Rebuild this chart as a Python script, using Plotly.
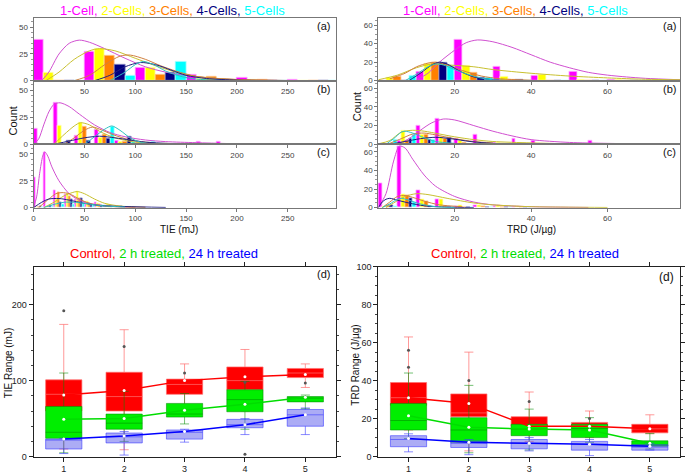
import plotly.graph_objects as go

# ---------------- histogram data ----------------
cells = ["1-Cell", "2-Cells", "3-Cells", "4-Cells", "5-Cells"]
bar_colors = ["#ff00ff", "#ffff00", "#ff8000", "#000080", "#00ffff"]
edge_colors = ["#ffb8ff", "#ffffc0", "#ffc890", "#9090c8", "#c0ffff"]
fit_colors = ["#d050d0", "#c8c030", "#d08040", "#202080", "#30c0c0"]

# TIE panel (a): bins of 50 mJ
tie_a_bins = [25, 75, 125, 175, 225, 275]
tie_a = [
    [38, 27.5, 12, 5.7, 3, 0.8],
    [7.8, 29.8, 12, 1.8, 1, 0.3],
    [0, 23.5, 5.7, 3.9, 0.5, 0],
    [0, 14.8, 7.8, 1, 0, 0],
    [0, 4.8, 17.8, 0, 0, 0],
]
# TIE panel (b): bins of 20 mJ
tie_b_bins = [10, 30, 50, 70, 90, 110, 130, 150, 170, 190, 210]
tie_b = [
    [14.2, 38.5, 8, 14, 3.3, 1.5, 1, 0.5, 2, 2, 0],
    [0, 17, 19.7, 6.4, 2.7, 1, 0.5, 0, 0, 0, 0],
    [0, 0, 16, 8.8, 2, 1, 0.5, 0, 0, 0, 0],
    [0, 3, 3.3, 5, 7.3, 1.5, 0, 0, 0, 0, 0],
    [0, 0, 0, 16.4, 2, 2, 1, 0, 0, 0, 0],
]
# TIE panel (c): bins of 10 mJ
tie_c_bins = [5, 15, 25, 35, 45, 55, 65, 75, 85, 95]
tie_c = [
    [28, 51.5, 16, 12.3, 7.8, 5, 5, 2, 1, 0.5],
    [0, 1, 9, 13.8, 15.4, 6, 4, 3, 1, 0.5],
    [0, 1, 14.7, 10.8, 8.7, 4, 3, 2, 1, 0.5],
    [1.5, 2, 4.8, 7.5, 8.7, 3, 2, 1, 1, 0.5],
    [0, 1, 2.7, 3.3, 3.9, 2, 2, 1, 0.5, 0.5],
]
# TRD panel (a): bins of 10 J/ug
trd_a_bins = [5, 15, 25, 35, 45, 55, 65, 75]
trd_a = [
    [0, 9.5, 43.8, 15, 5.6, 10, 1.4, 0],
    [3, 18, 16, 4.2, 6.7, 1.5, 1.4, 0.5],
    [4.6, 19.8, 8.8, 1, 0, 0, 0, 0],
    [0, 19.8, 2.8, 0.5, 0, 0, 0, 0],
    [5, 16.6, 2.8, 0, 0, 0, 0, 0],
]
# TRD panel (b): bins of 5 J/ug
trd_b_bins = [2.5, 7.5, 12.5, 17.5, 22.5, 27.5, 32.5, 37.5, 42.5, 47.5, 52.5, 57.5]
trd_b = [
    [0, 3.8, 20.3, 27, 6.5, 10, 2, 6.5, 3.8, 0.5, 0, 3.5],
    [1, 15, 10, 8, 4, 2, 2, 1, 0.5, 0, 0, 0],
    [0, 4, 10.7, 6, 2, 1, 1, 0, 0, 0, 0, 0],
    [0, 6, 4.8, 7.2, 0, 0, 0, 0, 0, 0, 0, 0],
    [5, 10.7, 4.8, 0, 0, 0, 0, 0, 0, 0, 0, 0],
]
# TRD panel (c): bins of 5 J/ug
trd_c_bins = [2.5, 7.5, 12.5, 17.5, 22.5, 27.5, 32.5, 37.5]
trd_c = [
    [26.5, 66, 19, 9, 1, 3, 1, 0.5],
    [1, 14, 9, 9, 2, 3, 2, 1],
    [2, 13, 7, 1, 0.5, 1, 0, 0],
    [3, 10, 1, 0, 0, 0, 0, 0],
    [1, 6, 1, 0, 0, 0, 0, 0],
]

# fitted distribution curves (x, count)
tie_a_fit = [
    [(8, 0), (15, 8), (25, 25), (35, 35), (45, 38), (55, 36), (70, 30), (90, 21), (110, 13), (130, 8), (150, 5), (180, 2), (220, 0.5), (290, 0)],
    [(12, 0), (25, 8), (40, 20), (55, 28), (65, 30), (80, 28), (100, 21), (120, 14), (140, 8), (160, 4), (200, 1), (260, 0)],
    [(40, 0), (55, 5), (70, 15), (85, 23), (95, 24), (110, 20), (125, 14), (140, 9), (160, 4), (190, 1.5), (240, 0.3), (290, 0)],
    [(60, 0), (75, 5), (90, 13), (105, 17), (120, 15), (135, 10), (150, 5), (170, 2), (200, 0.5), (240, 0)],
    [(75, 0), (90, 8), (100, 15), (108, 18), (118, 15), (130, 9), (145, 4), (160, 1.5), (190, 0)],
]
tie_b_fit = [
    [(0, 0), (5, 5), (10, 18), (15, 30), (20, 37), (26, 38.5), (35, 35), (45, 28), (60, 18), (75, 11), (90, 7), (110, 4), (130, 2.5), (160, 1.5), (200, 0.5)],
    [(20, 0), (30, 9), (40, 17), (46, 20), (55, 18), (65, 12), (80, 6), (100, 2), (130, 0.5)],
    [(30, 0), (40, 6), (50, 13), (58, 16), (65, 14), (78, 9), (95, 4), (120, 1)],
    [(20, 0), (35, 3), (50, 6), (65, 7.5), (80, 6), (95, 4), (110, 2), (140, 0.5)],
    [(50, 0), (60, 7), (70, 14), (77, 17), (85, 13), (95, 6), (105, 2), (120, 0)],
]
tie_c_fit = [
    [(0, 0), (3, 10), (6, 32), (9, 48), (11, 52), (14, 48), (18, 38), (25, 25), (35, 13), (45, 7), (60, 3), (80, 1), (110, 0.3)],
    [(10, 0), (20, 5), (30, 11), (38, 14), (43, 15), (50, 13), (60, 8), (70, 4), (85, 1.5), (110, 0.3)],
    [(5, 0), (15, 8), (22, 13), (28, 14), (35, 13), (45, 8), (55, 4), (70, 1.5), (100, 0.3)],
    [(0, 0), (8, 5), (15, 8), (25, 8.5), (35, 7), (50, 4), (65, 2), (90, 1), (130, 0.2)],
    [(10, 0), (20, 3), (30, 5), (40, 5), (50, 4), (65, 2), (90, 0.5)],
]
trd_a_fit = [
    [(10, 1), (13, 8), (16, 20), (20, 33), (23, 41), (26, 44), (30, 42), (35, 36), (40, 28), (45, 20), (50, 14), (55, 9), (60, 6), (65, 4), (70, 2.5), (79, 1)],
    [(0, 1), (5, 6), (10, 14), (14, 18), (18, 17), (25, 15), (30, 12), (40, 8), (50, 5), (60, 3), (70, 1.5), (79, 1)],
    [(3, 2), (7, 8), (10, 15), (13, 19), (15, 20), (18, 17), (22, 11), (27, 5), (32, 2), (40, 0.5)],
    [(8, 0), (11, 8), (14, 17), (16, 20), (18, 18), (21, 11), (25, 4), (30, 1), (35, 0)],
    [(7, 0), (10, 7), (13, 15), (15, 18), (17, 17), (20, 12), (24, 6), (28, 2), (33, 0)],
]
trd_b_fit = [
    [(5, 0), (8, 6), (11, 15), (14, 23), (17, 27), (20, 26), (25, 20), (30, 14), (35, 9), (40, 5), (50, 2), (60, 1), (75, 0.3)],
    [(0, 0.5), (3, 4), (6, 13), (9, 15), (12, 14), (16, 11), (20, 8), (25, 5), (30, 3), (40, 1.5), (50, 0.5)],
    [(3, 1), (6, 6), (9, 11), (12, 12), (15, 10), (20, 6), (25, 3), (30, 1.5)],
    [(3, 0), (7, 3), (11, 6), (15, 7.5), (19, 6), (24, 3), (30, 1), (40, 0.2)],
    [(2, 0), (4, 6), (6, 13), (7, 14), (9, 12), (12, 7), (15, 3), (20, 1)],
]
trd_c_fit = [
    [(0, 0), (2, 15), (4, 50), (5.5, 66), (7, 64), (9, 52), (12, 35), (15, 23), (20, 12), (25, 6), (30, 3), (40, 1), (55, 0.2)],
    [(2, 0), (4, 5), (7, 12), (10, 15), (13, 14), (18, 10), (25, 5), (30, 3), (40, 1), (50, 0.5), (60, 0.2)],
    [(1, 0), (3, 6), (5, 12), (7, 13), (9, 11), (12, 7), (16, 3), (22, 1)],
    [(0, 0), (1, 6), (2, 9), (3, 10), (5, 8), (8, 5), (12, 2), (18, 0.5), (25, 0)],
    [(1, 0), (3, 4), (5, 9), (6, 10), (8, 8), (11, 4), (15, 1), (20, 0)],
]

# ---------------- box plot data ----------------
n_cells = [1, 2, 3, 4, 5]
groups = ["Control", "2 h treated", "24 h treated"]

tie_ctrl_q1 = [60, 60, 82, 88, 104]
tie_ctrl_med = [82, 79, 95, 100, 110]
tie_ctrl_q3 = [101, 111, 102, 118, 116]
tie_ctrl_lo = [10, 9, 60, 60, 91]
tie_ctrl_hi = [174, 167, 122, 141, 122]
tie_ctrl_mean = [81, 87, 100, 105, 108]

tie_2h_q1 = [24, 36, 52, 59, 72]
tie_2h_med = [32, 44, 56, 75, 77]
tie_2h_q3 = [66, 56, 70, 88, 79]
tie_2h_lo = [5, 20, 43, 36, 63]
tie_2h_hi = [110, 86, 83, 99, 81]
tie_2h_mean = [49, 50, 61, 69, 78]

tie_24h_q1 = [10, 18, 23, 38, 40]
tie_24h_med = [22, 26, 32, 42, 55]
tie_24h_q3 = [23, 31, 35, 49, 62]
tie_24h_lo = [4, 2, 19, 29, 29]
tie_24h_hi = [24, 33, 36, 50, 64]
tie_24h_mean = [23, 27, 33, 42, 55]

tie_out_x = [1, 2, 3, 4, 5, 4]
tie_out_y = [192, 145, 110, 98, 97, 3]

trd_ctrl_q1 = [27, 21, 16, 16, 12.5]
trd_ctrl_med = [31, 23, 16, 17, 14.6]
trd_ctrl_q3 = [39, 33, 21, 18, 17]
trd_ctrl_lo = [14, 3, 8, 10, 12]
trd_ctrl_hi = [63, 55, 34, 24, 22]
trd_ctrl_mean = [31, 28, 16, 16, 14.6]

trd_2h_q1 = [14, 7.5, 11, 10, 5.5]
trd_2h_med = [19, 14, 14.5, 14.8, 6]
trd_2h_q3 = [28, 20.5, 17, 17, 8.3]
trd_2h_lo = [9.5, 2, 3.5, 7.5, 4]
trd_2h_hi = [44, 37.5, 25, 20.5, 12.2]
trd_2h_mean = [21.5, 15.5, 14.5, 14, 7]

trd_24h_q1 = [5.2, 4.8, 4.1, 3.4, 3.4]
trd_24h_med = [9, 7, 7, 6.5, 5]
trd_24h_q3 = [11, 8.2, 9, 8, 6.2]
trd_24h_lo = [2.5, 1, 3, 0.5, 3.5]
trd_24h_hi = [12, 9, 10, 9, 7]
trd_24h_mean = [9.5, 7.5, 7, 6.5, 5.5]

trd_out_x = [1, 1, 2, 3, 4]
trd_out_y = [56, 47, 40, 29, 20]

box_fill = ["#ff0000", "#00ee00", "rgba(90,90,235,0.5)"]
box_line = ["rgba(255,110,110,0.7)", "rgba(0,140,0,0.55)", "rgba(60,60,255,0.6)"]
mean_line = ["#ff0000", "#00dd00", "#0000ff"]

# ---------------- layout helpers ----------------
W, H = 685, 475
FONT = "Arial, Liberation Sans, sans-serif"


def xd(a, b):
    return [a / W, b / W]


def yd(top, bottom):
    return [1 - bottom / H, 1 - top / H]


fig = go.Figure()


def hist_panel(bins, counts, fits, n):
    xa, ya = f"x{n}", f"y{n}"
    for i in range(5):
        fig.add_trace(go.Bar(
            x=bins, y=counts[i], name=cells[i], xaxis=xa, yaxis=ya,
            marker=dict(color=bar_colors[i], line=dict(color=edge_colors[i], width=0.8)),
            showlegend=False))
    for i in range(5):
        fig.add_trace(go.Scatter(
            x=[p[0] for p in fits[i]], y=[p[1] for p in fits[i]],
            mode="lines", xaxis=xa, yaxis=ya, showlegend=False,
            line=dict(color=fit_colors[i], width=1, shape="spline", smoothing=0.8)))


hist_panel(tie_a_bins, tie_a, tie_a_fit, 1)
hist_panel(tie_b_bins, tie_b, tie_b_fit, 2)
hist_panel(tie_c_bins, tie_c, tie_c_fit, 3)
hist_panel(trd_a_bins, trd_a, trd_a_fit, 4)
hist_panel(trd_b_bins, trd_b, trd_b_fit, 5)
hist_panel(trd_c_bins, trd_c, trd_c_fit, 6)


def box_panel(stats, means, out_x, out_y, n):
    xa, ya = f"x{n}", f"y{n}"
    for g, (q1, med, q3, lo, hi) in enumerate(stats):
        fig.add_trace(go.Box(
            x=n_cells, q1=q1, median=med, q3=q3, lowerfence=lo, upperfence=hi,
            name=groups[g], xaxis=xa, yaxis=ya, width=0.6, whiskerwidth=0.25,
            fillcolor=box_fill[g], line=dict(color=box_line[g], width=1),
            boxpoints=False, showlegend=False))
    for g, m in enumerate(means):
        fig.add_trace(go.Scatter(
            x=n_cells, y=m, mode="lines+markers", xaxis=xa, yaxis=ya, showlegend=False,
            line=dict(color=mean_line[g], width=1.5),
            marker=dict(color="white", size=3)))
    fig.add_trace(go.Scatter(
        x=out_x, y=out_y, mode="markers", xaxis=xa, yaxis=ya, showlegend=False,
        marker=dict(color="#555555", size=3)))


box_panel([
    (tie_ctrl_q1, tie_ctrl_med, tie_ctrl_q3, tie_ctrl_lo, tie_ctrl_hi),
    (tie_2h_q1, tie_2h_med, tie_2h_q3, tie_2h_lo, tie_2h_hi),
    (tie_24h_q1, tie_24h_med, tie_24h_q3, tie_24h_lo, tie_24h_hi),
], [tie_ctrl_mean, tie_2h_mean, tie_24h_mean], tie_out_x, tie_out_y, 7)

box_panel([
    (trd_ctrl_q1, trd_ctrl_med, trd_ctrl_q3, trd_ctrl_lo, trd_ctrl_hi),
    (trd_2h_q1, trd_2h_med, trd_2h_q3, trd_2h_lo, trd_2h_hi),
    (trd_24h_q1, trd_24h_med, trd_24h_q3, trd_24h_lo, trd_24h_hi),
], [trd_ctrl_mean, trd_2h_mean, trd_24h_mean], trd_out_x, trd_out_y, 8)

# ---------------- axes ----------------
hist_rows = [(13, 77.3), (77.3, 142.3), (142.3, 207)]
left_x, right_x = (31.7, 335), (378, 681)

base_hist = dict(showline=True, linecolor="#777", linewidth=1, mirror=True,
                 showgrid=False, zeroline=False, ticks="outside", ticklen=3,
                 tickcolor="#777", tickfont=dict(size=8, color="#444"))
layout_axes = {}
for k, (top, bot) in enumerate(hist_rows):
    nl, nr = k + 1, k + 4
    sl, sr = ("" if nl == 1 else str(nl)), str(nr)
    layout_axes[f"xaxis{sl}"] = dict(base_hist, domain=xd(*left_x), anchor=f"y{sl}", range=[0, 297],
                                     tickvals=[0, 50, 100, 150, 200, 250] if k == 2 else [50, 100, 150, 200, 250])
    layout_axes[f"yaxis{sl}"] = dict(base_hist, domain=yd(top, bot), anchor=f"x{sl}", range=[0, 59],
                                     tickvals=[0, 25, 50], minor=dict(ticks="outside", ticklen=2, dtick=5, tickcolor="#999"))
    layout_axes[f"xaxis{sr}"] = dict(base_hist, domain=xd(*right_x), anchor=f"y{sr}", range=[0, 79],
                                     tickvals=[20, 40, 60])
    layout_axes[f"yaxis{sr}"] = dict(base_hist, domain=yd(top, bot), anchor=f"x{sr}", range=[0, 68],
                                     tickvals=[0, 20, 40, 60], minor=dict(ticks="outside", ticklen=2, dtick=5, tickcolor="#999"))

base_box = dict(showline=True, linecolor="#222", linewidth=1, mirror="ticks",
                showgrid=False, zeroline=False, ticks="outside", ticklen=4,
                tickcolor="#222", tickfont=dict(size=9, color="#222"))
layout_axes["xaxis7"] = dict(base_box, domain=xd(*left_x), anchor="y7", range=[0.5, 5.5], tickvals=n_cells)
layout_axes["yaxis7"] = dict(base_box, domain=yd(267.3, 461.3), anchor="x7", range=[0, 250], tickvals=[0, 100, 200],
                             minor=dict(ticks="outside", ticklen=2, dtick=20, tickcolor="#444"))
layout_axes["xaxis8"] = dict(base_box, domain=xd(*right_x), anchor="y8", range=[0.5, 5.5], tickvals=n_cells)
layout_axes["yaxis8"] = dict(base_box, domain=yd(267.3, 461.3), anchor="x8", range=[0, 100],
                             tickvals=[0, 20, 40, 60, 80, 100],
                             minor=dict(ticks="outside", ticklen=2, dtick=5, tickcolor="#444"))

# ---------------- text ----------------
def colored(parts, colors):
    n = len(parts)
    return " ".join(f'<span style="color:{c}">{p}{"," if i < n - 1 else ""}</span>'
                    for i, (p, c) in enumerate(zip(parts, colors)))


cells_title = colored(cells, bar_colors)
groups_title = colored(groups, mean_line)


def ann(text, x, y, size=12, angle=0, xanchor="center"):
    return dict(text=text, x=x / W, y=1 - y / H, xref="paper", yref="paper", showarrow=False,
                font=dict(size=size, color="#111", family=FONT), textangle=angle,
                xanchor=xanchor, yanchor="middle")


annotations = [
    ann(cells_title, 171, 6, 13),
    ann(cells_title, 516, 6, 13),
    ann(groups_title, 163, 254, 13),
    ann(groups_title, 525, 254, 13),
    ann("(a)", 331, 21, 11, xanchor="right"),
    ann("(b)", 331, 86, 11, xanchor="right"),
    ann("(c)", 331, 150, 11, xanchor="right"),
    ann("(a)", 679, 21, 11, xanchor="right"),
    ann("(b)", 679, 86, 11, xanchor="right"),
    ann("(c)", 679, 150, 11, xanchor="right"),
    ann("(d)", 331, 275, 11, xanchor="right"),
    ann("(d)", 677, 278, 12, xanchor="right"),
    ann("Count", 11, 118, 11, -90),
    ann("Count", 356, 104, 11, -90),
    ann("TIE (mJ)", 178, 229, 10),
    ann("TRD (J/µg)", 532, 229, 10),
    ann("TIE Range (mJ)", 6, 365, 10, -90),
    ann("TRD Range (J/µg)", 355, 368, 10, -90),
]

fig.update_layout(
    width=W, height=H, margin=dict(l=0, r=0, t=0, b=0),
    paper_bgcolor="white", plot_bgcolor="white",
    font=dict(family=FONT, size=9, color="#333"),
    barmode="group", bargap=0, bargroupgap=0, boxmode="overlay",
    showlegend=False, annotations=annotations, **layout_axes)

# drop the default page margin so the figure sits at the window's corner
fig.write_html("out.html", config={"displayModeBar": False},
               post_script="document.body.style.margin='0';")
